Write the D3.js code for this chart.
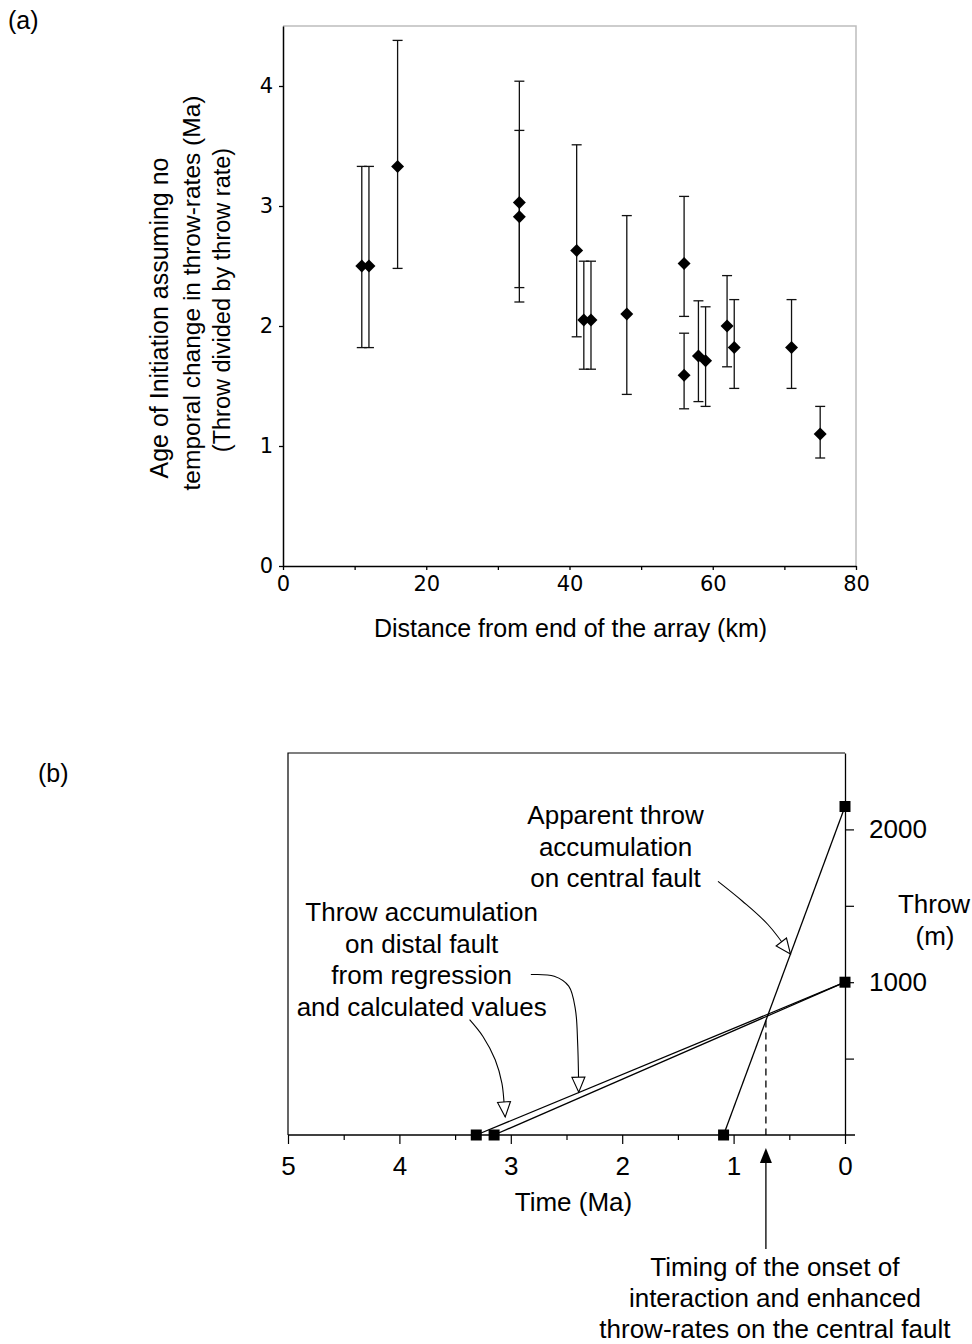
<!DOCTYPE html>
<html>
<head>
<meta charset="utf-8">
<script src="https://cdnjs.cloudflare.com/ajax/libs/d3/7.8.5/d3.min.js"></script>
<style>
body { margin: 0; background: #fff; }
text { font-family: "Liberation Sans", Arial, Helvetica, sans-serif; fill: #000; }
</style>
</head>
<body>
<div id="chart"></div>
<script>
// PANEL (a) data
var distanceKm = [11, 12, 16, 33, 33, 41, 42, 43, 48, 56, 56, 58, 59, 62, 63, 71, 75];
var ageMa      = [2.50, 2.50, 3.33, 3.03, 2.91, 2.63, 2.05, 2.05, 2.10, 2.52, 1.59, 1.75, 1.71, 2.00, 1.82, 1.82, 1.10];
var ageLow     = [1.82, 1.82, 2.48, 2.32, 2.20, 1.91, 1.64, 1.64, 1.43, 2.08, 1.31, 1.37, 1.33, 1.66, 1.48, 1.48, 0.90];
var ageHigh    = [3.33, 3.33, 4.38, 4.04, 3.63, 3.51, 2.54, 2.54, 2.92, 3.08, 1.94, 2.21, 2.16, 2.42, 2.22, 2.22, 1.33];
var distTicks = [0, 10, 20, 30, 40, 50, 60, 70, 80];
var ageTicks = [0, 1, 2, 3, 4];
var yTitleA = ['Age of Initiation assuming no', 'temporal change in throw-rates (Ma)', '(Throw divided by throw rate)'];

// PANEL (b) data  [time Ma, throw m]
var distalRegression = [[3.31, 0], [0, 1000]];
var distalCalculated = [[3.15, 0], [0, 1000]];
var centralApparent  = [[1.09, 0], [0, 2150]];
var onsetMa = 0.71;
var timeTicks = [5, 4.5, 4, 3.5, 3, 2.5, 2, 1.5, 1, 0.5, 0];
var throwTicks = [500, 1000, 1500, 2000];
var throwLabels = [1000, 2000];
var noteCentral = ['Apparent throw', 'accumulation', 'on central fault'];
var noteDistal = ['Throw accumulation', 'on distal fault', 'from regression', 'and calculated values'];
var noteOnset = ['Timing of the onset of', 'interaction and enhanced', 'throw-rates on the central fault'];
// leader curves, in [time Ma, throw m]
var leaderCentral = [[1.14, 1660], [0.92, 1530], [0.69, 1376], [0.49, 1185]];
var leaderRegression = [[2.82, 1050], [2.61, 1039], [2.48, 974], [2.42, 821], [2.40, 602], [2.39, 280]];
var leaderCalculated = [[3.37, 755], [3.25, 645], [3.14, 492], [3.08, 339], [3.06, 208], [3.05, 118]];

var width = 972, height = 1344;

var svg = d3.select('#chart')
	.append('svg')
	.attr('width', width)
	.attr('height', height);

// ---------- PANEL (a) ----------
var xA = d3.scaleLinear().domain([0, 80]).range([283, 856]);
var yA = d3.scaleLinear().domain([0, 4.5]).range([566, 26]);

svg.append('text').attr('x', 8).attr('y', 20).attr('dy', '0.35em')
	.style('font-size', '25px').text('(a)');

// light grey frame top + right
svg.append('path')
	.attr('d', 'M' + xA(0) + ',' + yA(4.5) + 'H' + xA(80) + 'V' + yA(0))
	.attr('fill', 'none').attr('stroke', '#bdbdbd').attr('stroke-width', 1.5);

var axA_x = svg.append('g')
	.attr('transform', 'translate(0,' + yA(0) + ')')
	.call(d3.axisBottom(xA).tickValues(distTicks).tickSize(4).tickSizeOuter(0).tickPadding(6)
		.tickFormat(function(d) { return d % 20 === 0 ? d : ''; }));
var axA_y = svg.append('g')
	.attr('transform', 'translate(' + xA(0) + ',0)')
	.call(d3.axisLeft(yA).tickValues(ageTicks).tickSize(4).tickSizeOuter(0).tickPadding(6)
		.tickFormat(d3.format('d')));
[axA_x, axA_y].forEach(function(g) {
	g.select('.domain').attr('stroke', '#000').attr('stroke-width', 1.5);
	g.selectAll('.tick line').attr('stroke', '#000').attr('stroke-width', 1.3);
	g.selectAll('.tick text').style('font-family', '"DejaVu Sans", Verdana, sans-serif').style('font-size', '21px').attr('fill', '#111');
});

svg.append('text')
	.attr('x', (xA(0) + xA(80)) / 2 + 1).attr('y', 628).attr('dy', '0.35em')
	.attr('text-anchor', 'middle').style('font-size', '25px')
	.text('Distance from end of the array (km)');

var yTitleX = [159, 191, 222];
var yTitleY = [318, 293, 300];
var yTitleSize = [25, 24.5, 23.5];
yTitleA.forEach(function(s, i) {
	svg.append('text')
		.attr('transform', 'translate(' + yTitleX[i] + ',' + yTitleY[i] + ') rotate(-90)')
		.attr('dy', '0.35em').attr('text-anchor', 'middle')
		.style('font-size', yTitleSize[i] + 'px').text(s);
});

// error bars
var errs = svg.append('g').attr('stroke', '#111').attr('stroke-width', 1.3);
distanceKm.forEach(function(d, i) {
	var x = xA(d);
	errs.append('line').attr('x1', x).attr('x2', x).attr('y1', yA(ageLow[i])).attr('y2', yA(ageHigh[i]));
	errs.append('line').attr('x1', x - 5).attr('x2', x + 5).attr('y1', yA(ageLow[i])).attr('y2', yA(ageLow[i]));
	errs.append('line').attr('x1', x - 5).attr('x2', x + 5).attr('y1', yA(ageHigh[i])).attr('y2', yA(ageHigh[i]));
});

// diamonds
var diamond = d3.symbol().type(d3.symbolSquare).size(84);
svg.append('g').selectAll('path')
	.data(distanceKm)
	.enter().append('path')
	.attr('d', diamond)
	.attr('transform', function(d, i) { return 'translate(' + xA(d) + ',' + yA(ageMa[i]) + ') rotate(45)'; })
	.attr('fill', '#000');

// ---------- PANEL (b) ----------
var xB = d3.scaleLinear().domain([5, 0]).range([288, 845]);
var yB = d3.scaleLinear().domain([0, 2500]).range([1135, 753]);

svg.append('text').attr('x', 38).attr('y', 773).attr('dy', '0.35em')
	.style('font-size', '25px').text('(b)');

// frame top + left
svg.append('path')
	.attr('d', 'M' + xB(5) + ',' + yB(0) + 'V' + yB(2500) + 'H' + xB(0))
	.attr('fill', 'none').attr('stroke', '#000').attr('stroke-width', 1.2);

var axB_x = svg.append('g')
	.attr('transform', 'translate(0,' + yB(0) + ')')
	.call(d3.axisBottom(xB).tickValues(timeTicks).tickSize(9).tickSizeOuter(0).tickPadding(13)
		.tickFormat(function(d) { return d % 1 === 0 ? d : ''; }));
axB_x.select('.domain').remove();
axB_x.selectAll('.tick line')
	.attr('y2', function(d) { return d % 1 === 0 ? 9 : 5; });
axB_x.append('line')
	.attr('x1', xB(5)).attr('x2', xB(0) + 10)
	.attr('stroke', '#000').attr('stroke-width', 1.3);

var axB_y = svg.append('g')
	.attr('transform', 'translate(' + xB(0) + ',0)')
	.call(d3.axisRight(yB).tickValues(throwTicks).tickSize(9).tickSizeOuter(0).tickPadding(15)
		.tickFormat(function(d) { return throwLabels.indexOf(d) >= 0 ? d : ''; }));
[axB_x, axB_y].forEach(function(g) {
	g.select('.domain').attr('stroke', '#000').attr('stroke-width', 1.3);
	g.selectAll('.tick line').attr('stroke', '#000').attr('stroke-width', 1.2);
	g.selectAll('.tick text').style('font-family', '"Liberation Sans", Arial, sans-serif').style('font-size', '26px').attr('fill', '#000');
});

svg.append('text').attr('x', (xB(5) + xB(0)) / 2 + 7).attr('y', 1202).attr('dy', '0.35em')
	.attr('text-anchor', 'middle').style('font-size', '26px').text('Time (Ma)');
svg.append('text').attr('x', 934).attr('y', yB(1500) - 2).attr('dy', '0.35em')
	.attr('text-anchor', 'middle').style('font-size', '26px').text('Throw');
svg.append('text').attr('x', 935).attr('y', yB(1500) + 30).attr('dy', '0.35em')
	.attr('text-anchor', 'middle').style('font-size', '26px').text('(m)');

// throw lines
var lineB = d3.line().x(function(d) { return xB(d[0]); }).y(function(d) { return yB(d[1]); });
[distalRegression, distalCalculated, centralApparent].forEach(function(l) {
	svg.append('path').attr('d', lineB(l))
		.attr('fill', 'none').attr('stroke', '#000').attr('stroke-width', 1.3);
});

// dashed line at onset of interaction, from the central line down to the axis
var onsetThrow = centralApparent[1][1] * (centralApparent[0][0] - onsetMa) / centralApparent[0][0];
svg.append('line')
	.attr('x1', xB(onsetMa)).attr('x2', xB(onsetMa))
	.attr('y1', yB(onsetThrow)).attr('y2', yB(0))
	.attr('stroke', '#000').attr('stroke-width', 1.3).attr('stroke-dasharray', '7,5');

// squares
var squares = [distalRegression[0], distalCalculated[0], centralApparent[0], distalRegression[1], centralApparent[1]];
svg.append('g').selectAll('path')
	.data(squares)
	.enter().append('path')
	.attr('d', d3.symbol().type(d3.symbolSquare).size(121))
	.attr('transform', function(d) { return 'translate(' + xB(d[0]) + ',' + yB(d[1]) + ')'; })
	.attr('fill', '#000');

// leader curves with open arrowheads
var leader = d3.line().curve(d3.curveCatmullRom)
	.x(function(d) { return xB(d[0]); }).y(function(d) { return yB(d[1]); });
function openHead(pts) {
	var a = pts[pts.length - 2], b = pts[pts.length - 1];
	var x0 = xB(a[0]), y0 = yB(a[1]), x1 = xB(b[0]), y1 = yB(b[1]);
	var ang = Math.atan2(y1 - y0, x1 - x0);
	var len = 15, hw = 6.5;
	var bx = x1 - len * Math.cos(ang), by = y1 - len * Math.sin(ang);
	var px = -Math.sin(ang) * hw, py = Math.cos(ang) * hw;
	return 'M' + x1 + ',' + y1 + 'L' + (bx + px) + ',' + (by + py) + 'L' + (bx - px) + ',' + (by - py) + 'Z';
}
[leaderCentral, leaderRegression, leaderCalculated].forEach(function(pts) {
	svg.append('path').attr('d', leader(pts))
		.attr('fill', 'none').attr('stroke', '#000').attr('stroke-width', 1.1);
	svg.append('path').attr('d', openHead(pts))
		.attr('fill', '#fff').attr('stroke', '#000').attr('stroke-width', 1.1);
});

// annotation text blocks
function note(lines, cx, cy, step) {
	lines.forEach(function(s, i) {
		svg.append('text').attr('x', cx).attr('y', cy + i * step).attr('dy', '0.35em')
			.attr('text-anchor', 'middle').style('font-size', '26px').text(s);
	});
}
note(noteCentral, xB(2.06), yB(2094), 31.5);
note(noteDistal, xB(3.80), yB(1460), 31.5);
note(noteOnset, xB(onsetMa) + 9, 1267, 31);

// upward arrow to the onset time
svg.append('line')
	.attr('x1', xB(onsetMa)).attr('x2', xB(onsetMa))
	.attr('y1', yB(0) + 114).attr('y2', yB(0) + 26)
	.attr('stroke', '#000').attr('stroke-width', 1.3);
svg.append('path')
	.attr('d', 'M' + xB(onsetMa) + ',' + (yB(0) + 13) + 'l6,15h-12z')
	.attr('fill', '#000');
</script>
</body>
</html>
